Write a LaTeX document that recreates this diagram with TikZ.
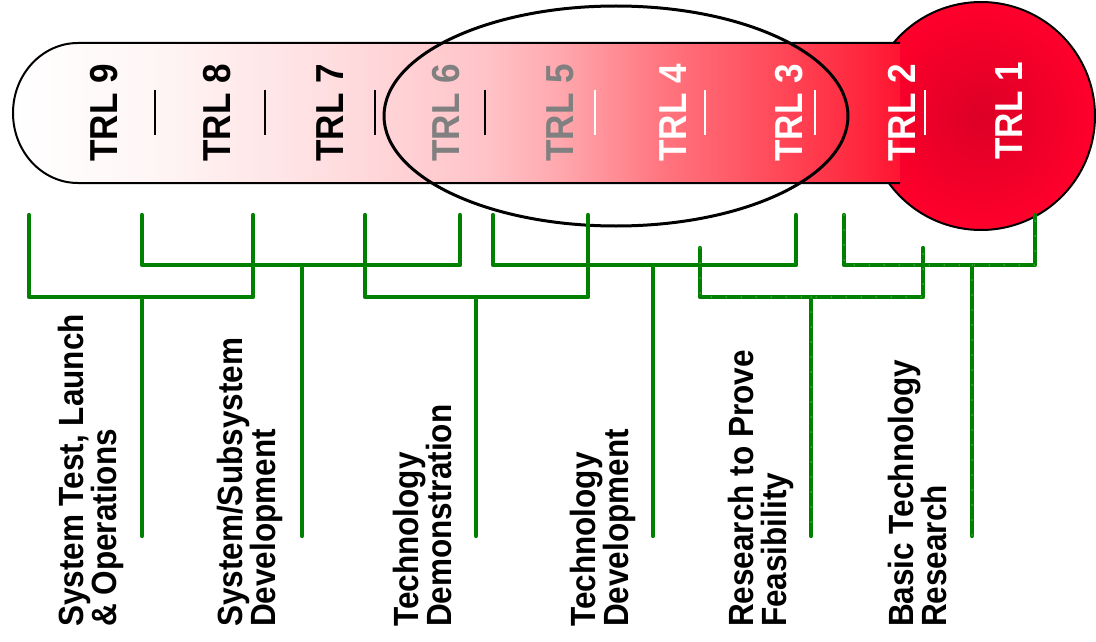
\documentclass[tikz,border=0pt]{standalone}
\usepackage{fontspec}
\setmainfont{Liberation Sans}[FakeStretch=0.9]

\definecolor{trlgreen}{RGB}{0,128,0}
\definecolor{trlred}{RGB}{255,0,43}
\definecolor{trldark}{RGB}{220,0,38}
\definecolor{trlgray}{RGB}{128,128,128}
\definecolor{barA}{RGB}{255,246,246}
\definecolor{barB}{RGB}{255,222,224}
\definecolor{barC}{RGB}{255,195,200}
\definecolor{barD}{RGB}{255,168,174}
\definecolor{barE}{RGB}{255,118,128}
\definecolor{barF}{RGB}{255,72,88}
\definecolor{barG}{RGB}{255,40,62}
\definecolor{barH}{RGB}{255,20,50}
\pgfdeclarehorizontalshading{trlbar}{100bp}{color(0bp)=(white); color(25bp)=(white); color(32.7bp)=(barA); color(42.9bp)=(barB); color(51.6bp)=(barC); color(55.8bp)=(barD); color(61.5bp)=(barE); color(68.2bp)=(barF); color(72.7bp)=(barG); color(75bp)=(barH); color(100bp)=(barH)}

\tikzset{
	trl/.style={rotate=90, anchor=base, inner sep=0pt, font=\fontsize{39}{39}\selectfont\bfseries},
	phase/.style={rotate=90, anchor=north west, inner sep=0pt, align=left, font=\fontsize{35}{33}\selectfont\bfseries},
	bracket/.style={draw=trlgreen, line width=4.3pt, line cap=round, line join=round},
	speckled/.style={bracket, postaction={draw=white, line width=1pt, dash pattern=on 0pt off 15pt}},
	trlsep/.style={line width=2.5pt}
}

\begin{document}
\begin{tikzpicture}[x=1pt, y=-1pt]
	\useasboundingbox (0,0) rectangle (1096,642);

	\draw
		[line width=2pt, inner color=trldark, outer color=trlred] (981,116) circle [radius=114];

	\shade
		[shading=trlbar] (900,43) -- (78,43) arc [start angle=270, end angle=90, x radius=65, y radius=70] -- (900,183) -- cycle;
	\draw
		[line width=2pt] (900,43) -- (78,43) arc [start angle=270, end angle=90, x radius=65, y radius=70] -- (900,183);

	\foreach \n/\x/\c in {9/117/black, 8/230/black, 7/343/black, 6/459/trlgray, 5/573/trlgray, 4/686/white, 3/802/white, 2/915/white}
		\node [trl, text=\c] (trl\n) at (\x,113) {TRL \n};
	\node [trl, text=white] (trl1) at (1022,111) {TRL 1};

	\foreach \x/\c in {155/black, 265/black, 375/black, 485/black, 595/white, 705/white, 815/white, 925/white}
		\draw
			[trlsep, draw=\c] (\x,90) -- (\x,135);

	\draw
		[line width=3pt] (616,116) ellipse [x radius=232, y radius=110];

	\node [phase] (p9) at (58,627) {System Test, Launch\\\& Operations};
	\node [phase] (p8) at (217,627) {System/Subsystem\\Development};
	\node [phase] (p7) at (393,627) {Technology\\Demonstration};
	\node [phase] (p5) at (570,627) {Technology\\Development};
	\node [phase] (p3) at (728,627) {Research to Prove\\Feasibility};
	\node [phase] (p1) at (888,627) {Basic Technology\\Research};

	\foreach \n/\xl/\xr/\yt/\yh/\xs/\sty in {a/29/253/215/297/142/bracket, b/142/460/215/265/302/bracket, c/365/588/215/297/476/bracket, d/493/796/215/265/653/bracket, e/700/923/248/297/811/speckled, f/844/1035/215/265/972/speckled}
	{
		\coordinate (l\n) at (\xl,\yt);
		\coordinate (r\n) at (\xr,\yt);
		\coordinate (m\n) at (\xs,\yh);
		\coordinate (s\n) at (\xs,536);
		\draw
			[\sty] (l\n) |- (m\n) -| (r\n);
		\draw
			[\sty] (m\n) -- (s\n);
	}
\end{tikzpicture}
\end{document}
